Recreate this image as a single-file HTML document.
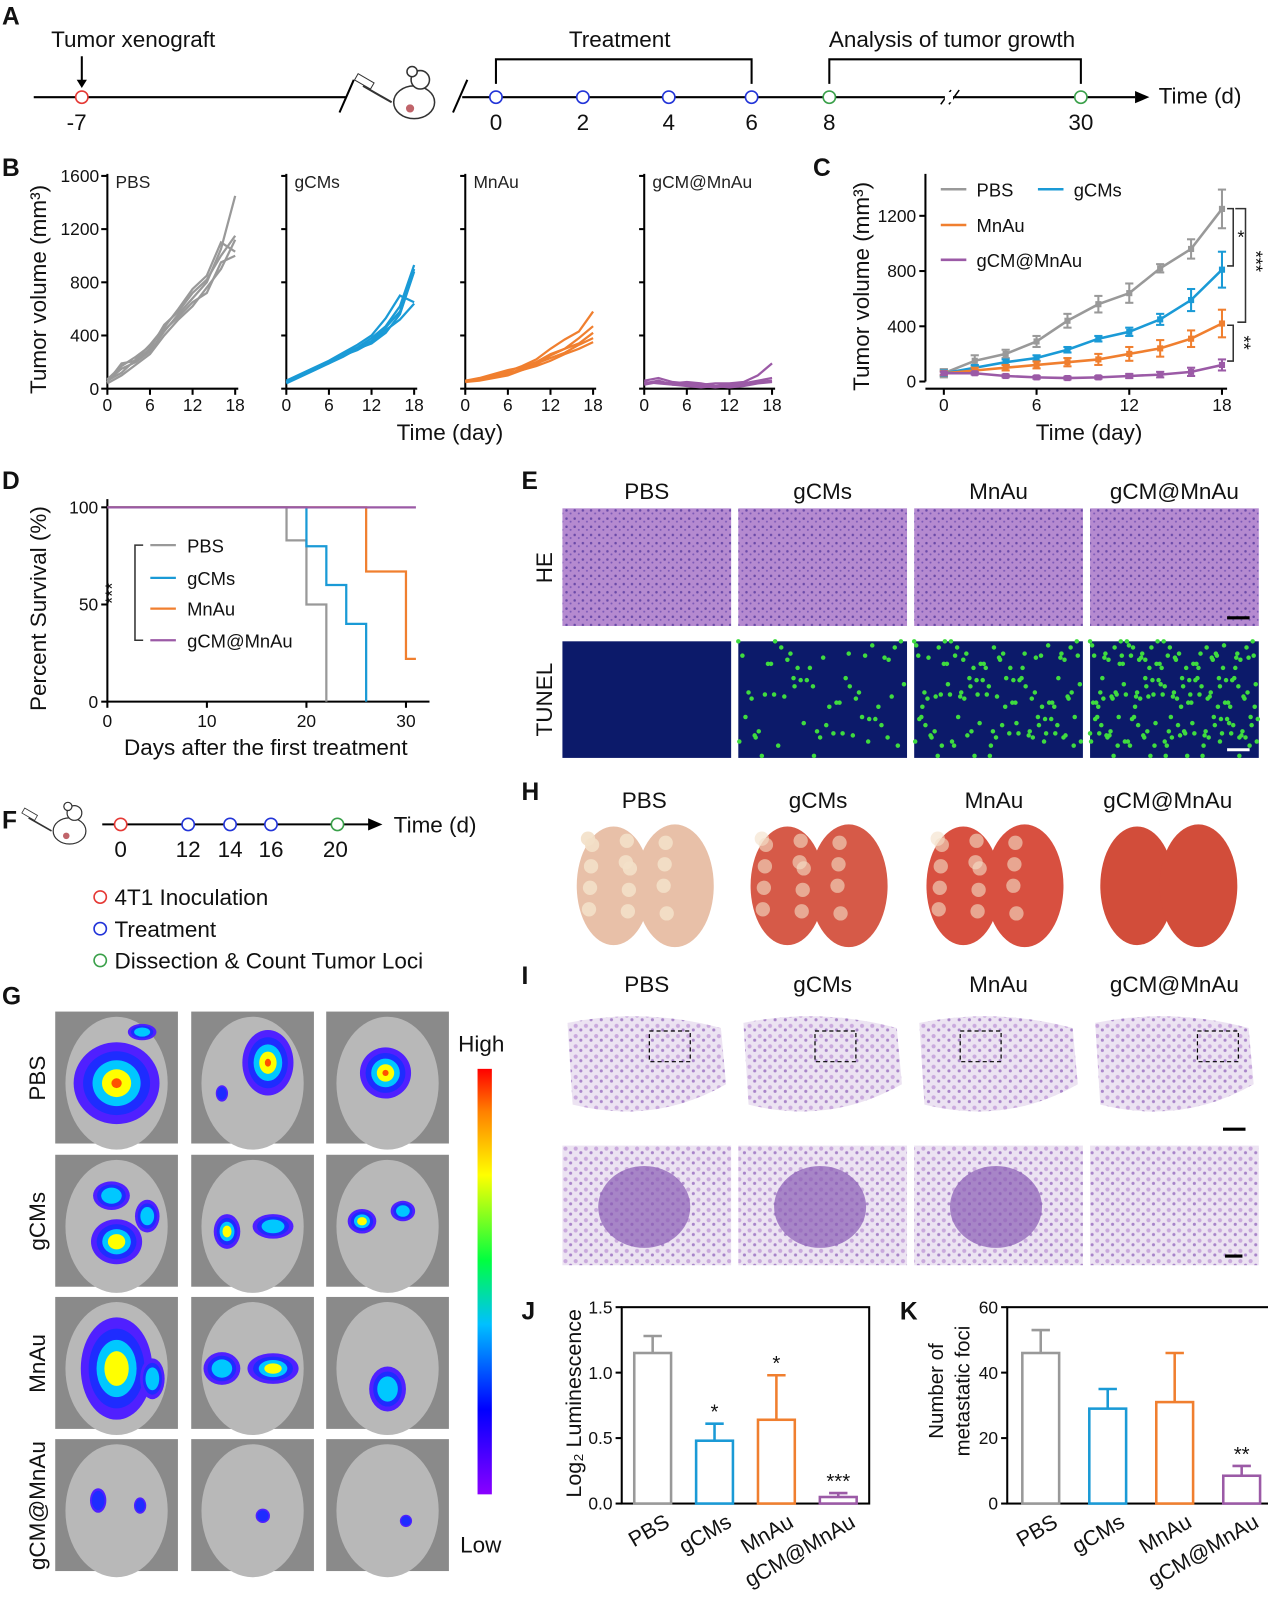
<!DOCTYPE html>
<html><head><meta charset="utf-8">
<style>
body{margin:0;background:#fff;}
svg{display:block;font-family:"Liberation Sans",Arial,sans-serif;}
</style></head>
<body>
<svg id="fig" width="1268" height="1613" viewBox="0 0 1240 1577" preserveAspectRatio="none" xmlns="http://www.w3.org/2000/svg">
<defs>
<linearGradient id="cbar" x1="0" y1="1" x2="0" y2="0">
<stop offset="0" stop-color="#8a00ff"/><stop offset="0.2" stop-color="#0000ff"/><stop offset="0.4" stop-color="#00c0ff"/><stop offset="0.55" stop-color="#00ff40"/><stop offset="0.75" stop-color="#ffff00"/><stop offset="0.9" stop-color="#ff8000"/><stop offset="1" stop-color="#ff0000"/>
</linearGradient>
<pattern id="he" width="8" height="8" patternUnits="userSpaceOnUse"><rect width="8" height="8" fill="#b58ad0"/><circle cx="2" cy="3" r="1.2" fill="#6a4aa8"/><circle cx="6" cy="6" r="1" fill="#7d5ab8"/></pattern>
<pattern id="lung" width="10" height="10" patternUnits="userSpaceOnUse"><rect width="10" height="10" fill="#ece3f2"/><circle cx="3" cy="3" r="2" fill="#c9a9dd"/><circle cx="8" cy="7" r="1.5" fill="#a884c9"/></pattern>
</defs>
<g id="root"></g>
</svg>
<script>
// ---------- chart data ----------
const daysB = [0,2,4,6,8,10,12,14,16,18];
const pbsMice = [[60,150,200,280,430,560,680,800,1050,1450],[50,190,210,300,480,580,720,820,1000,1150],[60,120,220,330,460,600,750,850,1100,1030],[40,100,180,260,400,520,620,760,900,1120],[70,170,240,320,440,540,650,720,950,1000]];
const gcmMice = [[50,100,150,200,260,310,380,470,620,930],[40,90,140,190,240,300,340,420,560,880],[60,110,160,210,270,330,400,530,700,650],[50,95,145,200,250,300,360,460,580,900],[45,100,150,190,250,290,350,440,520,640]];
const mnauMice = [[60,70,100,130,170,220,300,370,430,580],[50,60,80,100,140,180,250,300,380,470],[60,80,110,140,160,200,260,300,340,420],[55,65,90,110,150,190,230,270,330,380],[60,70,85,120,140,170,210,260,300,350]];
const comboMice = [[60,80,50,40,30,40,40,50,100,190],[40,60,30,20,10,20,30,40,60,80],[50,40,30,30,20,10,20,30,50,60],[30,50,40,50,40,20,10,20,40,50]];
const bTicksY = [0,400,800,1200,1600];
const bTicksX = [0,6,12,18];
const groupNames = ["PBS","gCMs","MnAu","gCM@MnAu"];
const cMeanPBS = [60,150,200,290,440,560,640,820,960,1250];
const cErrPBS = [30,40,30,40,50,60,70,30,70,140];
const cMeanGCM = [60,100,140,170,230,310,360,450,590,810];
const cErrGCM = [20,20,20,20,20,20,30,40,80,130];
const cMeanMn = [60,80,100,120,140,160,200,240,310,420];
const cErrMn = [15,20,20,25,30,40,50,60,60,100];
const cMeanCombo = [60,60,40,30,25,30,40,50,70,120];
const cErrCombo = [10,10,10,10,10,10,15,20,30,40];
const cTicksY = [0,400,800,1200];
const dSurvPBS = [[0,100],[18,100],[18,83],[20,83],[20,50],[22,50],[22,0]];
const dSurvGCM = [[0,100],[20,100],[20,80],[22,80],[22,60],[24,60],[24,40],[26,40],[26,0]];
const dSurvMn = [[0,100],[26,100],[26,67],[30,67],[30,22],[31,22]];
const dSurvCombo = [[0,100],[31,100]];
const dTicksX = [0,10,20,30];
const dTicksY = [0,50,100];
const jVals = [1.15,0.48,0.64,0.05];
const jErr = [0.13,0.13,0.34,0.03];
const jStars = ["","*","*","***"];
const jTicks = [0.0,0.5,1.0,1.5];
const kVals = [46,29,31,8.5];
const kErr = [7,6,15,3];
const kStars = ["","","","**"];
const kTicks = [0,20,40,60];
const colors = ["#999999","#1a9ad6","#f07f2f","#9b5aa6"];

const NS="http://www.w3.org/2000/svg";
const root=document.getElementById('root');
function mk(tag,attrs,parent,name,inter){const e=document.createElementNS(NS,tag);for(const k in attrs)e.setAttribute(k,attrs[k]);


(parent||root).appendChild(e);return e;}
function txt(x,y,s,size,opts,name){opts=opts||{};const t=mk('text',Object.assign({x:x,y:y,'font-size':size,fill:opts.fill||'#111','text-anchor':opts.anchor||'start'},opts.extra||{}),opts.parent,name||'label');t.textContent=s;return t;}
function line(x1,y1,x2,y2,c,w,name,extra){return mk('line',Object.assign({x1:x1,y1:y1,x2:x2,y2:y2,stroke:c||'#000','stroke-width':w||2},extra||{}),null,name||'line');}
function circ(x,y,r,c,name){return mk('circle',{cx:x,cy:y,r:r,fill:'#fff',stroke:c,'stroke-width':1.6},null,name||'timepoint');}
function panel(s,x,y){txt(x,y,s,24,{extra:{'font-weight':'bold'}},'panel-label-'+s);}

// ---------- Panel A ----------
panel('A',2,24);
line(33,95,338,95,'#000',2,'timeline-a-1');line(452,95,1110,95,'#000',2,'timeline-a-2');
mk('polygon',{points:'1110,89 1124,95 1110,101',fill:'#000'},null,'timeline-arrow');
line(332,110,346,78,'#000',2,'break-mark');line(443,110,457,78,'#000',2,'break-mark');
line(920,102,930,88,'#000',1.5,'break-mark');line(928,102,938,88,'#000',1.5,'break-mark');
mk('rect',{x:924,y:90,width:8,height:10,fill:'#fff'},null,'break-gap');
txt(50,46,'Tumor xenograft',22,{},'xenograft-label');
line(80,55,80,82,'#000',2,'xenograft-arrow');mk('polygon',{points:'75,78 85,78 80,86',fill:'#000'},null,'arrowhead');
circ(80,95,6,'#e53935','day-minus7');txt(75,127,'-7',22,{anchor:'middle'});
[[485,'0'],[570,'2'],[654,'4'],[735,'6']].forEach(p=>{circ(p[0],95,6,'#2234d8','treatment-day');txt(p[0],127,p[1],22,{anchor:'middle'},'tick-label');});
[[811,'8'],[1057,'30']].forEach(p=>{circ(p[0],95,6,'#3aa04a','analysis-day');txt(p[0],127,p[1],22,{anchor:'middle'},'tick-label');});
txt(1133,101,'Time (d)',22,{},'time-axis-label');
txt(606,46,'Treatment',22,{anchor:'middle'},'treatment-label');
txt(931,46,'Analysis of tumor growth',22,{anchor:'middle'},'analysis-label');
mk('polyline',{points:'485,82 485,58 735,58 735,82',fill:'none',stroke:'#000','stroke-width':2},null,'treatment-bracket');
mk('polyline',{points:'811,82 811,58 1057,58 1057,82',fill:'none',stroke:'#000','stroke-width':2},null,'analysis-bracket');
function mouse(cx,cy,s,name){const g=mk('g',{transform:`translate(${cx},${cy}) scale(${s})`},null,name);
mk('ellipse',{cx:0,cy:8,rx:20,ry:16,fill:'#fff',stroke:'#333','stroke-width':1.5},g,'mouse-body');
mk('circle',{cx:6,cy:-14,r:9,fill:'#fff',stroke:'#333','stroke-width':1.5},g,'mouse-head');
mk('circle',{cx:-2,cy:-22,r:5,fill:'#fff',stroke:'#333','stroke-width':1.5},g,'mouse-ear');
mk('circle',{cx:-4,cy:14,r:4,fill:'#c0646a'},g,'tumor');
mk('line',{x1:-50,y1:-8,x2:-22,y2:8,stroke:'#333','stroke-width':2},g,'syringe');
mk('rect',{x:-58,y:-16,width:18,height:7,fill:'#fff',stroke:'#333',transform:'rotate(30 -49 -12)'},g,'syringe-barrel');}
mouse(405,92,1,'mouse-icon-a');

// ---------- Panel B ----------
panel('B',2,172);
const bY=v=>380-v*(208/1600);
const bX0=[105,280,455,630];
const bSets=[pbsMice,gcmMice,mnauMice,comboMice];
const bCol=["#999999","#1a9ad6","#f07f2f","#9b5aa6"];
bSets.forEach((set,i)=>{const x0=bX0[i];const bx=d=>x0+d*(125/18);
line(x0,170,x0,380,'#000',2,'y-axis-b');line(x0,380,x0+128,380,'#000',2,'x-axis-b');
bTicksX.forEach(t=>{line(bx(t),380,bx(t),386,'#000',2,'x-tick');txt(bx(t),402,t,17,{anchor:'middle'},'x-tick-label');});
if(i===0)bTicksY.forEach(t=>{line(x0-6,bY(t),x0,bY(t),'#000',2,'y-tick');txt(x0-8,bY(t)+6,t,17,{anchor:'end'},'y-tick-label');});
else bTicksY.forEach(t=>{line(x0-5,bY(t),x0,bY(t),'#000',2,'y-tick');});
txt(x0+8,184,groupNames[i],17,{fill:'#222'},'subplot-title');
set.forEach((m,j)=>{mk('polyline',{points:m.map((v,k)=>bx(daysB[k])+','+bY(v)).join(' '),fill:'none',stroke:bCol[i],'stroke-width':2.2},null,'mouse-curve-'+groupNames[i]);});
});
txt(45,283,'Tumor volume (mm³)',22,{anchor:'middle',extra:{transform:'rotate(-90 45 283)'}},'y-axis-title-b');
txt(440,430,'Time (day)',22,{anchor:'middle'},'x-axis-title-b');

// ---------- Panel C ----------
panel('C',795,172);
const cX=d=>923+d*(272/18), cY=v=>373-v*(54/400);
line(905,170,905,373,'#000',2,'y-axis-c');line(905,380,1200,380,'#000',2,'x-axis-c');
cTicksY.forEach(t=>{line(899,cY(t),905,cY(t),'#000',2,'y-tick');txt(896,cY(t)+6,t,17,{anchor:'end'},'y-tick-label');});
[0,6,12,18].forEach(t=>{line(cX(t),380,cX(t),386,'#000',2,'x-tick');txt(cX(t),402,t,17,{anchor:'middle'},'x-tick-label');});
txt(850,280,'Tumor volume (mm³)',22,{anchor:'middle',extra:{transform:'rotate(-90 850 280)'}},'y-axis-title-c');
txt(1065,430,'Time (day)',22,{anchor:'middle'},'x-axis-title-c');
[[cMeanPBS,cErrPBS],[cMeanGCM,cErrGCM],[cMeanMn,cErrMn],[cMeanCombo,cErrCombo]].forEach((s,i)=>{
s[0].forEach((v,k)=>{const x=cX(daysB[k]);line(x,cY(v-s[1][k]),x,cY(v+s[1][k]),colors[i],2,'error-bar');line(x-4,cY(v+s[1][k]),x+4,cY(v+s[1][k]),colors[i],2,'error-cap');line(x-4,cY(v-s[1][k]),x+4,cY(v-s[1][k]),colors[i],2,'error-cap');});
mk('polyline',{points:s[0].map((v,k)=>cX(daysB[k])+','+cY(v)).join(' '),fill:'none',stroke:colors[i],'stroke-width':2.5},null,'series-'+groupNames[i]);
s[0].forEach((v,k)=>mk('rect',{x:cX(daysB[k])-3,y:cY(v)-3,width:6,height:6,fill:colors[i]},null,'point'));});
[[920,185,0],[1015,185,1],[920,220,2],[920,254,3]].forEach(l=>{line(l[0],l[1],l[0]+25,l[1],colors[l[2]],2.5,'legend-swatch');txt(l[0]+35,l[1]+7,groupNames[l[2]],18,{},'legend-entry');});
mk('polyline',{points:'1200,204 1206,204 1206,260 1200,260',fill:'none',stroke:'#333','stroke-width':1.5},null,'sig-bracket');txt(1210,238,'*',18,{},'sig');
mk('polyline',{points:'1208,204 1218,204 1218,315 1210,315',fill:'none',stroke:'#333','stroke-width':1.5},null,'sig-bracket');txt(1222,245,'***',18,{extra:{transform:'rotate(90 1222 245)'}},'sig');
mk('polyline',{points:'1200,318 1206,318 1206,353 1200,353',fill:'none',stroke:'#333','stroke-width':1.5},null,'sig-bracket');txt(1210,328,'**',18,{extra:{transform:'rotate(90 1210 328)'}},'sig');

// ---------- Panel D ----------
panel('D',2,478);
const dX=d=>105+d*(292/30), dY=v=>686-v*1.9;
line(105,488,105,686,'#000',2,'y-axis-d');line(105,686,420,686,'#000',2,'x-axis-d');
dTicksX.forEach(t=>{line(dX(t),686,dX(t),692,'#000',2,'x-tick');txt(dX(t),711,t,17,{anchor:'middle'},'x-tick-label');});
dTicksY.forEach(t=>{line(99,dY(t),105,dY(t),'#000',2,'y-tick');txt(96,dY(t)+6,t,17,{anchor:'end'},'y-tick-label');});
[dSurvPBS,dSurvGCM,dSurvMn,dSurvCombo].forEach((s,i)=>mk('polyline',{points:s.map(p=>dX(p[0])+','+dY(p[1])).join(' '),fill:'none',stroke:colors[i],'stroke-width':2.2},null,'survival-'+groupNames[i]));
txt(45,595,'Percent Survival (%)',22,{anchor:'middle',extra:{transform:'rotate(-90 45 595)'}},'y-axis-title-d');
txt(260,738,'Days after the first treatment',22,{anchor:'middle'},'x-axis-title-d');
[533,565,595,626].forEach((y,i)=>{line(147,y,172,y,colors[i],2.2,'legend-swatch');txt(183,y+7,groupNames[i],18,{},'legend-entry');});
mk('polyline',{points:'140,533 132,533 132,626 140,626',fill:'none',stroke:'#333','stroke-width':1.5},null,'sig-bracket');
txt(116,580,'***',18,{extra:{transform:'rotate(-90 116 580)'},anchor:'middle'},'sig');

// ---------- Panel E ----------
panel('E',510,478);
const colX=[550,722,894,1066];const colW=165;
groupNames.forEach((g,i)=>txt(colX[i]+colW/2,488,g,22,{anchor:'middle'},'column-title'));
colX.forEach((x,i)=>{mk('rect',{x:x,y:497,width:colW,height:115,fill:'url(#he)'},null,'he-image');
mk('rect',{x:x,y:627,width:colW,height:114,fill:'#0c1a6a'},null,'tunel-image');
const n=[0,60,110,170][i];
for(let k=0;k<n;k++){const px=x+((k*73)%colW),py=627+((k*41+k*k*3)%114);mk('circle',{cx:px,cy:py,r:2.2,fill:'#3fdc3f'},null,'tunel-dot');}});
txt(540,555,'HE',22,{anchor:'middle',extra:{transform:'rotate(-90 540 555)'}},'row-label');
txt(540,684,'TUNEL',22,{anchor:'middle',extra:{transform:'rotate(-90 540 684)'}},'row-label');
line(1200,604,1222,604,'#000',3,'scale-bar');line(1200,733,1222,733,'#fff',3,'scale-bar');

// ---------- Panel F ----------
panel('F',2,810);
mouse(68,806,0.8,'mouse-icon-f');
line(100,806,362,806,'#000',2,'timeline-f');mk('polygon',{points:'360,800 374,806 360,812',fill:'#000'},null,'timeline-arrow');
circ(118,806,6,'#e53935','inoculation-day');txt(118,838,'0',22,{anchor:'middle'});
[[184,'12'],[225,'14'],[265,'16']].forEach(p=>{circ(p[0],806,6,'#2234d8','treatment-day');txt(p[0],838,p[1],22,{anchor:'middle'},'tick-label');});
circ(330,806,6,'#3aa04a','dissection-day');txt(328,838,'20',22,{anchor:'middle'});
txt(385,814,'Time (d)',22,{},'time-axis-label');
[['#e53935','4T1 Inoculation',877],['#2234d8','Treatment',908],['#3aa04a','Dissection & Count Tumor Loci',939]].forEach(l=>{circ(98,l[2],6,l[0],'legend-marker');txt(112,l[2]+8,l[1],22,{},'legend-entry');});

// ---------- Panel G ----------
panel('G',2,982);
const gX=[54,187,319], gY=[989,1129,1268,1407];
const gBlobs=[[[60,70,42,40,3],[85,20,14,8,1]],[[75,50,25,32,3],[30,80,6,8,0]],[[58,60,25,25,3]],
[[60,85,25,22,2],[55,40,18,14,1],[90,60,12,16,1]],[[35,75,13,17,2],[80,70,20,12,1]],[[35,65,14,12,2],[75,55,12,10,1]],
[[60,70,35,50,2],[95,80,12,20,1]],[[30,70,18,16,1],[80,70,25,15,2]],[[60,90,18,22,1]],
[[42,60,8,12,0],[83,65,6,8,0]],[[70,75,7,7,0]],[[78,80,6,6,0]]];
const blobCols=['#1e2cff','#00c8ff','#ffff00','#ff5000'];
gY.forEach((y,r)=>gX.forEach((x,c)=>{mk('rect',{x:x,y:y,width:120,height:129,fill:'#8a8a8a'},null,'imaging-photo');
mk('ellipse',{cx:x+60,cy:y+70,rx:50,ry:65,fill:'#b8b8b8'},null,'mouse-silhouette');
gBlobs[r*3+c].forEach(b=>{const lv=b[4];mk('ellipse',{cx:x+b[0],cy:y+b[1],rx:b[2],ry:b[3],fill:'#5020ff'},null,'signal-blob');
for(let l=0;l<=lv;l++){const f=1-(l+1)*0.22;mk('ellipse',{cx:x+b[0],cy:y+b[1],rx:b[2]*f,ry:b[3]*f,fill:blobCols[l]},null,'signal-blob');}});}));
['PBS','gCMs','MnAu','gCM@MnAu'].forEach((g,i)=>{const cy=gY[i]+65;txt(44,cy,g,22,{anchor:'middle',extra:{transform:`rotate(-90 44 ${cy})`}},'row-label');});
mk('rect',{x:467,y:1045,width:14,height:416,fill:'url(#cbar)'},null,'colorbar');
txt(448,1028,'High',22,{},'colorbar-high');txt(450,1518,'Low',22,{},'colorbar-low');

// ---------- Panel H ----------
panel('H',510,782);
const hC=[630,800,972,1142];const hCol=['#e8c0a8','#d65a48','#d85040','#d24d3a'];
groupNames.forEach((g,i)=>{txt(hC[i],790,g,22,{anchor:'middle'},'column-title');
mk('ellipse',{cx:hC[i]-30,cy:866,rx:36,ry:58,fill:hCol[i]},null,'lung-lobe');
mk('ellipse',{cx:hC[i]+30,cy:866,rx:38,ry:60,fill:hCol[i]},null,'lung-lobe');
if(i<3)for(let k=0;k<14;k++)mk('circle',{cx:hC[i]-55+(k*37)%110,cy:820+(k*23)%90,r:7,fill:'#f3e0c8',opacity:i===0?0.9:0.6},null,'tumor-nodule');});

// ---------- Panel I ----------
panel('I',510,962);
groupNames.forEach((g,i)=>{const x=colX[i];txt(x+colW/2,970,g,22,{anchor:'middle'},'column-title');
mk('path',{d:`M${x+5},${1000} Q${x+80},${985} ${x+155},${1005} L${x+160},${1060} Q${x+90},${1100} ${x+10},${1080} Z`,fill:'url(#lung)'},null,'lung-section');
mk('rect',{x:x+85+(i===3?20:(i===2?-40:(i==1?-10:0))),y:1008,width:40,height:30,fill:'none',stroke:'#000','stroke-dasharray':'4 3','stroke-width':1.2},null,'zoom-box');
mk('rect',{x:x,y:1120,width:colW,height:117,fill:'url(#lung)'},null,'lung-zoom');
if(i<3)mk('ellipse',{cx:x+80,cy:1180,rx:45,ry:40,fill:'#8a5db5',opacity:0.7},null,'metastasis');});
line(1196,1104,1218,1104,'#000',3,'scale-bar');line(1198,1228,1215,1228,'#000',3,'scale-bar');

// ---------- Panels J & K ----------
function barChart(L,R,vals,errs,stars,ticks,maxV,name){
const top=1278,bot=1470;const y=v=>bot-v*(bot-top)/maxV;const step=(R-L)/4;
mk('rect',{x:L,y:top,width:R-L,height:bot-top,fill:'none',stroke:'#000','stroke-width':2},null,name+'-frame');
ticks.forEach(t=>{line(L-6,y(t),L,y(t),'#000',2,'y-tick');txt(L-9,y(t)+6,ticks===jTicks?t.toFixed(1):t,17,{anchor:'end'},'y-tick-label');});
vals.forEach((v,i)=>{const cx=L+step*(i+0.5);
mk('rect',{x:cx-18,y:y(v),width:36,height:bot-y(v),fill:'none',stroke:colors[i],'stroke-width':2.5},null,'bar-'+groupNames[i]);
line(cx,y(v),cx,y(v+errs[i]),colors[i],2.5,'error-bar');line(cx-9,y(v+errs[i]),cx+9,y(v+errs[i]),colors[i],2.5,'error-cap');
if(stars[i])txt(cx,y(v+errs[i])-5,stars[i],20,{anchor:'middle'},'sig');
txt(cx+18,bot+22,groupNames[i],21,{anchor:'end',extra:{transform:`rotate(-30 ${cx+18} ${bot+22})`}},'x-tick-label');});}
panel('J',510,1290);panel('K',880,1290);
barChart(608,850,jVals,jErr,jStars,jTicks,1.5,'chart-j');
barChart(985,1247,kVals,kErr,kStars,kTicks,60,'chart-k');
txt(568,1372,'Log₂ Luminescence',21,{anchor:'middle',extra:{transform:'rotate(-90 568 1372)'}},'y-axis-title-j');
txt(922,1360,'Number of',20,{anchor:'middle',extra:{transform:'rotate(-90 922 1360)'}},'y-axis-title-k');
txt(948,1360,'metastatic foci',20,{anchor:'middle',extra:{transform:'rotate(-90 948 1360)'}},'y-axis-title-k');
</script>
</body></html>
